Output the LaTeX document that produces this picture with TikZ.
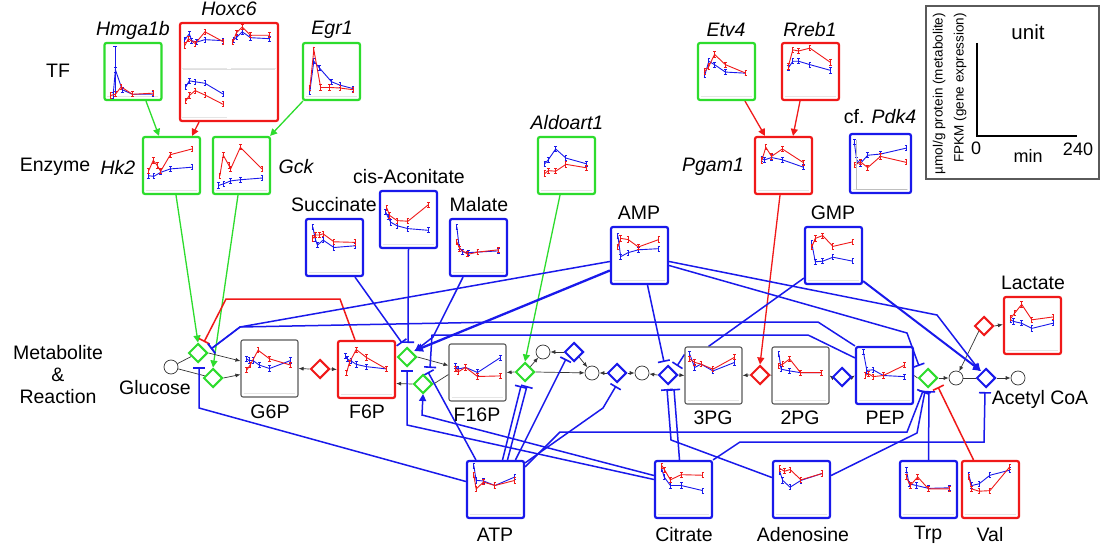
\documentclass[tikz,border=0pt]{standalone}
\usepackage{fontspec}
\setmainfont{Liberation Sans}
\usetikzlibrary{arrows.meta,shapes.geometric,backgrounds,calc}
\definecolor{cb}{RGB}{25,25,235}
\definecolor{cr}{RGB}{240,25,25}
\definecolor{cg}{RGB}{45,220,45}
\definecolor{cgr}{RGB}{90,90,90}
\pgfdeclareplotmark{ebar}{%
\pgfpathmoveto{\pgfqpoint{0pt}{-\pgfplotmarksize}}\pgfpathlineto{\pgfqpoint{0pt}{\pgfplotmarksize}}%
\pgfpathmoveto{\pgfqpoint{-1.3pt}{\pgfplotmarksize}}\pgfpathlineto{\pgfqpoint{1.3pt}{\pgfplotmarksize}}%
\pgfpathmoveto{\pgfqpoint{-1.3pt}{-\pgfplotmarksize}}\pgfpathlineto{\pgfqpoint{1.3pt}{-\pgfplotmarksize}}%
\pgfusepathqstroke}
\newcommand\mychart[6]{%
\begin{scope}[xshift=#1pt,yshift=-#2pt,x=#3pt,y=-#4pt]
\draw[gray!20,line width=0.6pt] (0.05,0.93)--(0.95,0.93);
\draw[chb] plot[mark=ebar,mark size=2.6pt] coordinates {#6};
\draw[chr] plot[mark=ebar,mark size=2.6pt] coordinates {#5};
\end{scope}}
\tikzset{
 lbl/.style={font=\fontsize{19.5}{22}\selectfont, inner sep=0pt},
 gene/.style={inner sep=0pt, font=\fontsize{19.5}{22}\selectfont\itshape},
 mbox/.style={draw, line width=2.2pt, rounded corners=2pt, minimum width=57pt, minimum height=57pt, inner sep=0pt, fill=white},
 bbox/.style={mbox, draw=cb}, rbox/.style={mbox, draw=cr}, gbox/.style={mbox, draw=cg},
 kbox/.style={mbox, draw=cgr, line width=1.1pt},
 dmd/.style={diamond, draw, line width=2pt, minimum width=19pt, minimum height=19pt, inner sep=0pt, fill=white},
 circ/.style={circle, draw=black!80, line width=0.7pt, minimum size=14pt, inner sep=0pt, fill=white},
 rx/.style={draw=black!80, line width=0.7pt},
 rxa/.style={rx, -{Latex[length=5pt,width=4pt]}},
 reg/.style={draw=cb, line width=1.5pt},
 inh/.style={reg, -{Bar[width=12pt,line width=1.6pt]}},
 act/.style={reg, -{Triangle[length=7pt,width=7pt]}},
 chb/.style={cb, line width=0.9pt}, chr/.style={cr, line width=0.9pt},
}
\begin{document}
\begin{tikzpicture}[x=1pt,y=-1pt]
\useasboundingbox (0,0) rectangle (1113,548);
% ---------- side labels
\node[lbl] (tf) at (58,71) {TF};
\node[lbl] (enz) at (55,167) {Enzyme};
\node[lbl, align=center] (mr) at (58,375) {Metabolite\\\&\\Reaction};
% ---------- boxes
\node[gbox] (hmga) at (133,71.5) {};
\node[rbox, minimum width=98pt, minimum height=98pt] (hoxc6) at (229,72) {};
\node[gbox] (egr1) at (331.5,71.5) {};
\node[gbox] (hk2) at (171.5,165.5) {};
\node[gbox] (gck) at (241.5,165.5) {};
\node[gbox] (aldo) at (566.5,165.5) {};
\node[gbox] (etv4) at (726.5,71.5) {};
\node[rbox] (rreb1) at (810.5,71.5) {};
\node[rbox] (pgam1) at (783.5,165.5) {};
\node[bbox, minimum width=61pt, minimum height=59pt] (pdk4) at (880.5,163.5) {};
\node[bbox] (cisacon) at (408.5,219.5) {};
\node[bbox] (succ) at (334.5,247.5) {};
\node[bbox] (malate) at (478.5,247.5) {};
\node[bbox] (amp) at (639.5,255.5) {};
\node[bbox] (gmp) at (833.5,255.5) {};
\node[kbox] (g6p) at (269.5,368.5) {};
\node[rbox] (f6p) at (366.5,369.5) {};
\node[kbox] (f16p) at (477.5,372.5) {};
\node[kbox] (pg3) at (713.5,375.5) {};
\node[kbox] (pg2) at (800.5,375.5) {};
\node[bbox] (pep) at (884.5,375.5) {};
\node[rbox] (lact) at (1032.5,325.5) {};
\node[bbox] (atp) at (495.5,489.5) {};
\node[bbox] (cit) at (683.5,489.5) {};
\node[bbox] (ado) at (801.5,489.5) {};
\node[bbox] (trp) at (928.5,489.5) {};
\node[rbox] (val) at (990.5,489.5) {};
% ---------- labels
\node[gene] (lhmga) at (133,30) {Hmga1b};
\node[gene] (lhox) at (229,9) {Hoxc6};
\node[gene] (legr) at (332,30) {Egr1};
\node[gene] (lhk2) at (118,167) {Hk2};
\node[gene] (lgck) at (296,167) {Gck};
\node[gene] (lald) at (567,123) {Aldoart1};
\node[gene] (letv) at (726,30) {Etv4};
\node[gene] (lrreb) at (810,30) {Rreb1};
\node[gene] (lpgam) at (713,167) {Pgam1};
\node[lbl] (lpdk) at (880,117) {cf. \textit{Pdk4}};
\node[lbl] (lcis) at (409,177) {cis-Aconitate};
\node[lbl] (lsucc) at (334,205) {Succinate};
\node[lbl] (lmal) at (479,205) {Malate};
\node[lbl] (lamp) at (639,213) {AMP};
\node[lbl] (lgmp) at (833,213) {GMP};
\node[lbl] (llac) at (1033,283) {Lactate};
\node[lbl] (lg6p) at (270,412) {G6P};
\node[lbl] (lf6p) at (367,412) {F6P};
\node[lbl] (lf16p) at (477,415) {F16P};
\node[lbl] (l3pg) at (713,418) {3PG};
\node[lbl] (l2pg) at (800,418) {2PG};
\node[lbl] (lpep) at (885,418) {PEP};
\node[lbl] (latp) at (495,535) {ATP};
\node[lbl] (lcit) at (684,535) {Citrate};
\node[lbl] (lado) at (803,535) {Adenosine};
\node[lbl] (ltrp) at (928,535) {Trp};
\node[lbl] (lval) at (990,535) {Val};
\node[lbl] (lglc) at (155,388) {Glucose};
\node[lbl] (lacc) at (1040,399) {Acetyl CoA};
% ---------- unit box
\node[draw=cgr, line width=1.1pt, minimum width=173pt, minimum height=173pt, inner sep=0pt] (unit) at (1012.5,92.5) {};
\draw[line width=2pt] (977,43) -- (977,136) -- (1077,136);
\node[lbl, font=\fontsize{20.5}{22}\selectfont] (lunit) at (1028,32) {unit};
\node[lbl, font=\fontsize{18}{20}\selectfont] (u0) at (976,148) {0};
\node[lbl, font=\fontsize{18}{20}\selectfont] (umin) at (1028,156) {min};
\node[lbl, font=\fontsize{18}{20}\selectfont] (u240) at (1078,149) {240};
\node[inner sep=0pt, font=\fontsize{13.5}{15}\selectfont, rotate=90, anchor=east] (uy1) at (939,13) {µmol/g protein (metabolite)};
\node[inner sep=0pt, font=\fontsize{13.5}{15}\selectfont, rotate=90, anchor=east] (uy2) at (960,13) {FPKM (gene expression)};
% ---------- reaction nodes
\node[circ] (glc) at (171,367) {};
\node[dmd, draw=cg] (dhk) at (198,353) {};
\node[dmd, draw=cg] (dgck) at (213,378) {};
\node[dmd, draw=cr] (dpgi) at (320,369) {};
\node[dmd, draw=cg] (dpfk) at (407,357) {};
\node[dmd, draw=cg] (dfbp) at (423,384) {};
\node[dmd, draw=cg] (dald) at (525,372) {};
\node[circ] (cdhap) at (543,352) {};
\node[dmd, draw=cb] (dtpi) at (574,352) {};
\node[circ] (cgap) at (592,373) {};
\node[dmd, draw=cb] (dgapdh) at (617,373) {};
\node[circ] (cbpg) at (642,373) {};
\node[dmd, draw=cb] (dpgk) at (668,375) {};
\node[dmd, draw=cr] (dpgm) at (760,375) {};
\node[dmd, draw=cb] (deno) at (842,377) {};
\node[dmd, draw=cg] (dpk) at (928,378) {};
\node[circ] (cpyr) at (956,378) {};
\node[dmd, draw=cb] (dpdh) at (986,378) {};
\node[circ] (cacc) at (1018,378) {};
\node[dmd, draw=cr] (dldh) at (984,326) {};
% ---------- charts
\mychart{104}{43}{57}{57}{(0.12,0.92) (0.2,0.9) (0.3,0.77) (0.5,0.9) (0.86,0.88)}{(0.16,0.92) (0.2,0.47) (0.32,0.82) (0.5,0.9) (0.86,0.9)}
\draw[chb] (115.4,46) -- (115.4,93) (113.4,46) -- (117.4,46);
\mychart{180}{23}{49}{49}{(0.1,0.46) (0.17,0.32) (0.31,0.42) (0.51,0.18) (0.88,0.38)}{(0.1,0.34) (0.19,0.22) (0.24,0.36) (0.34,0.39) (0.51,0.34) (0.88,0.36)}
\mychart{229}{23}{49}{49}{(0.08,0.39) (0.15,0.2) (0.27,0.08) (0.44,0.25) (0.83,0.25)}{(0.1,0.34) (0.16,0.29) (0.27,0.18) (0.44,0.3) (0.83,0.32)}
\mychart{180}{72}{49}{49}{(0.12,0.59) (0.19,0.48) (0.31,0.38) (0.51,0.47) (0.88,0.66)}{(0.12,0.3) (0.19,0.18) (0.31,0.2) (0.51,0.23) (0.88,0.45)}
\mychart{303}{43}{57}{57}{(0.12,0.79) (0.19,0.12) (0.31,0.78) (0.47,0.78) (0.65,0.79) (0.88,0.82)}{(0.12,0.85) (0.19,0.32) (0.29,0.44) (0.5,0.68) (0.65,0.74) (0.88,0.8)}
\mychart{143}{137}{57}{57}{(0.1,0.59) (0.18,0.41) (0.25,0.5) (0.31,0.6) (0.48,0.31) (0.86,0.21)}{(0.1,0.68) (0.19,0.69) (0.31,0.62) (0.48,0.56) (0.86,0.53)}
\mychart{213}{137}{57}{57}{(0.12,0.68) (0.18,0.32) (0.28,0.5) (0.31,0.56) (0.48,0.18) (0.86,0.56)}{(0.1,0.85) (0.19,0.82) (0.31,0.77) (0.48,0.75) (0.86,0.72)}
\mychart{538}{137}{57}{57}{(0.12,0.64) (0.18,0.59) (0.31,0.6) (0.49,0.48) (0.85,0.54)}{(0.12,0.47) (0.18,0.4) (0.31,0.21) (0.49,0.37) (0.85,0.47)}
\mychart{380}{191}{57}{57}{(0.12,0.3) (0.17,0.43) (0.3,0.52) (0.49,0.53) (0.85,0.24)}{(0.1,0.37) (0.14,0.46) (0.19,0.55) (0.3,0.61) (0.49,0.66) (0.85,0.69)}
\mychart{306}{219}{57}{57}{(0.12,0.34) (0.17,0.28) (0.24,0.28) (0.3,0.26) (0.49,0.4) (0.86,0.41)}{(0.12,0.14) (0.16,0.34) (0.2,0.46) (0.3,0.37) (0.49,0.5) (0.86,0.47)}
\mychart{450}{219}{57}{57}{(0.12,0.4) (0.17,0.52) (0.31,0.62) (0.49,0.58) (0.85,0.54)}{(0.12,0.14) (0.16,0.49) (0.22,0.58) (0.32,0.59) (0.49,0.58) (0.85,0.56)}
\mychart{611}{227}{57}{57}{(0.12,0.35) (0.17,0.2) (0.3,0.22) (0.48,0.35) (0.84,0.22)}{(0.12,0.15) (0.17,0.52) (0.3,0.45) (0.48,0.4) (0.84,0.38)}
\mychart{805}{227}{57}{57}{(0.12,0.35) (0.18,0.2) (0.31,0.15) (0.49,0.34) (0.84,0.26)}{(0.12,0.29) (0.18,0.61) (0.31,0.6) (0.49,0.53) (0.84,0.6)}
\mychart{698}{43}{57}{57}{(0.12,0.5) (0.19,0.41) (0.29,0.2) (0.48,0.38) (0.84,0.53)}{(0.12,0.56) (0.19,0.32) (0.29,0.38) (0.48,0.51) (0.84,0.53)}
\mychart{782}{43}{57}{57}{(0.11,0.41) (0.19,0.12) (0.29,0.14) (0.49,0.09) (0.85,0.34)}{(0.11,0.44) (0.19,0.32) (0.29,0.32) (0.49,0.38) (0.85,0.48)}
\mychart{755}{137}{57}{57}{(0.12,0.41) (0.19,0.18) (0.29,0.34) (0.48,0.21) (0.85,0.45)}{(0.12,0.38) (0.17,0.4) (0.29,0.36) (0.48,0.4) (0.85,0.53)}
\mychart{850}{134}{61}{59}{(0.08,0.53) (0.17,0.47) (0.29,0.57) (0.5,0.38) (0.92,0.48)}{(0.07,0.14) (0.11,0.44) (0.17,0.5) (0.29,0.36) (0.5,0.34) (0.92,0.24)}
\draw[gray!50, line width=0.6pt] (856,140) -- (856,189) -- (907,189);
\mychart{241}{340}{57}{57}{(0.1,0.53) (0.16,0.44) (0.3,0.18) (0.5,0.33) (0.87,0.44)}{(0.1,0.33) (0.14,0.36) (0.21,0.36) (0.32,0.44) (0.5,0.5) (0.87,0.36)}
\mychart{338}{341}{57}{57}{(0.15,0.56) (0.2,0.38) (0.32,0.15) (0.5,0.29) (0.85,0.49)}{(0.13,0.26) (0.17,0.32) (0.23,0.35) (0.32,0.41) (0.5,0.45) (0.85,0.49)}
\mychart{449}{344}{57}{57}{(0.11,0.44) (0.16,0.49) (0.29,0.41) (0.5,0.57) (0.9,0.56)}{(0.11,0.38) (0.16,0.44) (0.29,0.41) (0.5,0.5) (0.9,0.24)}
\mychart{685}{347}{57}{57}{(0.08,0.21) (0.17,0.27) (0.28,0.3) (0.49,0.39) (0.87,0.18)}{(0.08,0.12) (0.17,0.36) (0.28,0.3) (0.49,0.42) (0.87,0.27)}
\mychart{772}{347}{57}{57}{(0.12,0.33) (0.19,0.3) (0.31,0.21) (0.5,0.45) (0.87,0.45)}{(0.12,0.12) (0.16,0.39) (0.31,0.42) (0.5,0.45) (0.87,0.45)}
\mychart{856}{347}{57}{57}{(0.16,0.5) (0.22,0.47) (0.3,0.52) (0.48,0.5) (0.85,0.32)}{(0.13,0.09) (0.19,0.41) (0.3,0.4) (0.48,0.5) (0.85,0.52)}
\mychart{1004}{297}{57}{57}{(0.12,0.37) (0.19,0.28) (0.31,0.13) (0.49,0.4) (0.86,0.35)}{(0.12,0.4) (0.17,0.43) (0.31,0.46) (0.49,0.55) (0.86,0.46)}
\mychart{467}{461}{57}{57}{(0.12,0.25) (0.16,0.49) (0.29,0.37) (0.49,0.43) (0.84,0.34)}{(0.12,0.08) (0.16,0.34) (0.29,0.35) (0.49,0.43) (0.84,0.28)}
\mychart{655}{461}{57}{57}{(0.12,0.08) (0.17,0.16) (0.27,0.33) (0.46,0.24) (0.84,0.25)}{(0.12,0.14) (0.16,0.28) (0.27,0.43) (0.46,0.43) (0.84,0.52)}
\mychart{773}{461}{57}{57}{(0.12,0.13) (0.2,0.18) (0.3,0.15) (0.49,0.33) (0.86,0.22)}{(0.12,0.19) (0.17,0.34) (0.3,0.46) (0.49,0.34) (0.86,0.22)}
\mychart{900}{461}{57}{57}{(0.11,0.28) (0.18,0.43) (0.31,0.28) (0.5,0.49) (0.87,0.49)}{(0.11,0.16) (0.16,0.4) (0.29,0.43) (0.5,0.48) (0.87,0.47)}
\mychart{962}{461}{57}{57}{(0.12,0.28) (0.17,0.49) (0.3,0.53) (0.49,0.52) (0.84,0.1)}{(0.12,0.25) (0.17,0.43) (0.3,0.4) (0.49,0.25) (0.84,0.16)}
% ---------- connectors (behind)
\begin{pgfonlayer}{background}
\fill[white] (0,0) rectangle (1113,548);
% transcription / enzyme links
\draw[act, draw=cg, line width=1.3pt] ([xshift=13pt]hmga.south) -- ([xshift=-12.5pt]hk2.north);
\draw[act, draw=cr, line width=1.3pt] ([xshift=-30pt]hoxc6.south) -- ([xshift=20.5pt]hk2.north);
\draw[act, draw=cg, line width=1.3pt] ([xshift=1pt]egr1.south west) -- ([xshift=-1pt]gck.north east);
\draw[act, draw=cg, line width=1.3pt] ([xshift=4.5pt]hk2.south) -- (dhk.north);
\draw[act, draw=cg, line width=1.3pt] ([xshift=-3.5pt]gck.south) -- (dgck.north);
\draw[act, draw=cg, line width=1.3pt] ([xshift=-6.5pt]aldo.south) -- (dald.north);
\draw[act, draw=cr, line width=1.3pt] ([xshift=18.5pt]etv4.south) -- ([xshift=-18.5pt]pgam1.north);
\draw[act, draw=cr, line width=1.3pt] ([xshift=-10.5pt]rreb1.south) -- ([xshift=9.5pt]pgam1.north);
\draw[act, draw=cr, line width=1.3pt] ([xshift=-3.5pt]pgam1.south) -- (dpgm.north);
% reactions
\draw[rx] (glc) -- (dhk);
\draw[rx] (glc) -- (dgck);
\draw[rxa] (dhk.east) -- ([yshift=7.5pt]g6p.west);
\draw[rxa] (dgck.east) -- ([yshift=-6pt]g6p.west);
\draw[rxa] (dpgi.west) -- (g6p.east);
\draw[rxa] (dpgi.east) -- (f6p.west);
\draw[rxa] (dpfk.east) -- ([yshift=7pt]f16p.west);
\draw[rx] ([yshift=-2pt]f16p.west) -- (dfbp.east);
\draw[rxa] (dfbp.west) -- ([yshift=-14pt]f6p.east);
\draw[rxa] (dald.west) -- (f16p.east);
\draw[rxa] (dald.north east) -- (cdhap);
\draw[rxa] (dald.east) -- (cgap);
\draw[rxa] (dtpi.west) -- (cdhap);
\draw[rxa] (dtpi.south east) -- (cgap);
\draw[rxa] (dgapdh.west) -- (cgap);
\draw[rxa] (dgapdh.east) -- (cbpg);
\draw[rxa] (dpgk.west) -- (cbpg);
\draw[rxa] (dpgk.east) -- (pg3.west);
\draw[rxa] (dpgm.west) -- (pg3.east);
\draw[rx] (dpgm.east) -- (pg2.west);
\draw[rxa] (deno.west) -- (pg2.east);
\draw[rxa] (deno.east) -- (pep.west);
\draw[rx] (pep.east) -- (dpk.west);
\draw[rxa] (dpk.east) -- (cpyr);
\draw[rx] (cpyr) -- (dpdh);
\draw[rxa] (dpdh.east) -- (cacc);
\draw[rxa] (dldh.south west) -- (cpyr);
\draw[rxa] (dldh.east) -- ([yshift=1pt]lact.west);
% regulation
\draw[reg, draw=cr, -{Bar[width=12pt,line width=1.6pt]}] ([xshift=-11.5pt]f6p.north) -- (340,299) -- (226,299) -- (204,342);
\draw[inh] ([yshift=-6pt]amp.west) -- (240,327) -- (211,349);
\draw[inh] (pep.north west) -- (818,322) -- (500,322) -- (240,327) -- (211,349);
\draw[reg, line width=2.3pt, -{Triangle[length=9pt,width=8pt]}] ([yshift=-15pt]amp.west) -- (414,351);
\draw[inh] ([yshift=-12pt]pep.north west) -- (808,335) -- (432,335) -- (430,368);
\draw[inh] (cisacon.south) -- (408,343);
\draw[inh] ([xshift=20.5pt]succ.south) -- (402,343);
\draw[act] ([xshift=-15.5pt]malate.south) -- (433,337) -- (415,351);
\draw[inh] ([yshift=10pt]cit.west) -- (407,425) -- (407,370);
\draw[act] ([yshift=14pt]cit.west) -- (422,415) -- (423,394);
\draw[inh] ([yshift=8pt]atp.west) -- (199,408) -- (199,367);
\draw[inh] ([xshift=10pt]atp.north west) -- (428,372);
\draw[inh] ([xshift=7pt]atp.north) -- (521,386);
\draw[inh] ([xshift=12pt]atp.north) -- (527,386);
\draw[inh] ([xshift=20pt]atp.north) -- (566,359);
\draw[inh] ([yshift=-3pt]atp.north east) -- (603,408) -- (616,386);
\draw[inh] ([yshift=-7pt]atp.north east) -- (560,432) -- (907,432) -- (923,391);
\draw[inh] ([xshift=8pt]amp.south) -- (664,362);
\draw[act] ([yshift=-6pt]amp.east) -- (937,315) -- (980,371);
\draw[inh] ([yshift=-10pt]amp.east) -- (907,333) -- (919,366);
\draw[reg] ([yshift=7pt]gmp.south west) -- ([xshift=-5pt]pg3.north);
\draw[reg, line width=2pt, -{Triangle[length=8pt,width=8pt]}] ([yshift=4pt]gmp.south east) -- (981,371);
\draw[inh] ([yshift=-8pt]pg3.north west) -- (677,366);
\draw[inh] ([xshift=-4pt]cit.north) -- (674,389);
\draw[inh] ([yshift=12pt]ado.west) -- (671,440) -- (667,389);
\draw[inh] (cit.north east) -- (740,442) -- (984,442) -- (985,392);
\draw[inh] ([yshift=14pt]ado.east) -- (917,433) -- (925,391);
\draw[inh] (trp.north) -- (929,391);
\draw[reg, draw=cr, -{Bar[width=12pt,line width=1.6pt]}] ([xshift=-17pt]val.north) -- (938,387);
\end{pgfonlayer}
% Hoxc6 dividers
\draw[gray!25, line width=0.6pt] (183,69) -- (275,69);
\end{tikzpicture}
\end{document}
